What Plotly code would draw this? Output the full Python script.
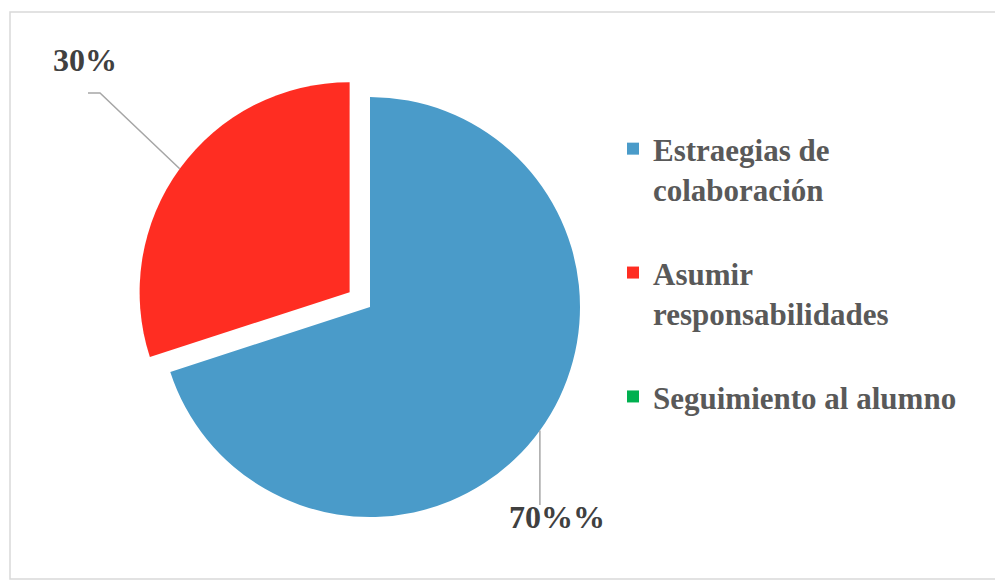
import math
import plotly.graph_objects as go

# ---- data ----
categories = ["Estraegias de<br>colaboración<br> ", "Asumir<br>responsabilidades<br> ", "Seguimiento al alumno"]
values = [70, 30, 0]
label_texts = ["70%%", "30%", ""]
colors = ["#4A9BC9", "#FF2D22", "#00B050"]
pulls = [0, 0.12, 0]

# page has an 8px body margin; figure coordinates = page coordinates - 8
OFF = 8
W, H = 995, 572
FONT = "Liberation Serif"

cx_t, cy_t, r_t = 370 - OFF, 307 - OFF, 210  # target pie center/radius (px)
R0 = r_t * (1 + max(pulls))
dom_x = [(cx_t - R0) / W, (cx_t + R0) / W]
dom_y = [1 - (cy_t + R0) / H, 1 - (cy_t - R0) / H]

fig = go.Figure(go.Pie(
    labels=categories, values=values, sort=False, direction="clockwise", rotation=0,
    pull=pulls, marker=dict(colors=colors, line=dict(width=0)), textinfo="none",
    domain=dict(x=dom_x, y=dom_y), hoverinfo="label+percent", showlegend=True,
))

# pie geometry (pixels) derived the same way plotly lays out the pie
cx = W * (dom_x[0] + dom_x[1]) / 2
cy = H * (1 - (dom_y[0] + dom_y[1]) / 2)
r = min(W * (dom_x[1] - dom_x[0]), H * (dom_y[1] - dom_y[0])) / 2 / (1 + max(pulls))
total = sum(values)

def px2paper(x, y):
    return x / W, 1 - y / H

# label layout in page pixels: (elbow points after arc point, label center)
label_layout = {
    0: dict(path=[("arcx", 505 - OFF)], label=(557 - OFF, 517 - OFF)),
    1: dict(path=[(100 - OFF, 93 - OFF), (88 - OFF, 93 - OFF)], label=(85 - OFF, 60 - OFF)),
}

cum = 0
for i, v in enumerate(values):
    frac = v / total
    mid = (cum + frac / 2) * 2 * math.pi
    cum += frac
    if i not in label_layout:
        continue
    off = pulls[i] * r
    ox = cx + off * math.sin(mid)
    oy = cy - off * math.cos(mid)
    ax = ox + r * math.sin(mid)
    ay = oy - r * math.cos(mid)
    pts = [(ax, ay)]
    for (px, py) in label_layout[i]["path"]:
        pts.append((ax if px == "arcx" else px, py))
    d = ""
    for k, (px, py) in enumerate(pts):
        xx, yy = px2paper(px, py)
        d += ("M" if k == 0 else " L") + f"{xx},{yy}"
    fig.add_shape(type="path", path=d, xref="paper", yref="paper",
                  line=dict(color="#A6A6A6", width=1.5))
    lx, ly = px2paper(*label_layout[i]["label"])
    fig.add_annotation(x=lx, y=ly, xref="paper", yref="paper", text=label_texts[i],
                       showarrow=False, xanchor="center", yanchor="middle",
                       font=dict(family=FONT, size=32, color="#404040", weight="bold"))

# chart border
bx0, by0 = px2paper(10 - OFF, 12 - OFF)
bx1, by1 = px2paper(1001 - OFF, 579 - OFF)
fig.add_shape(type="rect", xref="paper", yref="paper", x0=bx0, y0=by1, x1=bx1, y1=by0,
              line=dict(color="#D9D9D9", width=1.5), fillcolor="rgba(0,0,0,0)")

fig.update_layout(
    width=W, height=H,
    margin=dict(l=0, r=0, t=0, b=0),
    paper_bgcolor="white", plot_bgcolor="white",
    legend=dict(
        x=(613 - OFF) / W, y=1 - (122 - OFF) / H, xanchor="left", yanchor="top",
        valign="top", traceorder="normal",
        font=dict(family=FONT, size=31, color="#595959", weight="bold"),
        bgcolor="rgba(0,0,0,0)",
    ),
)

fig.write_html("out.html")
